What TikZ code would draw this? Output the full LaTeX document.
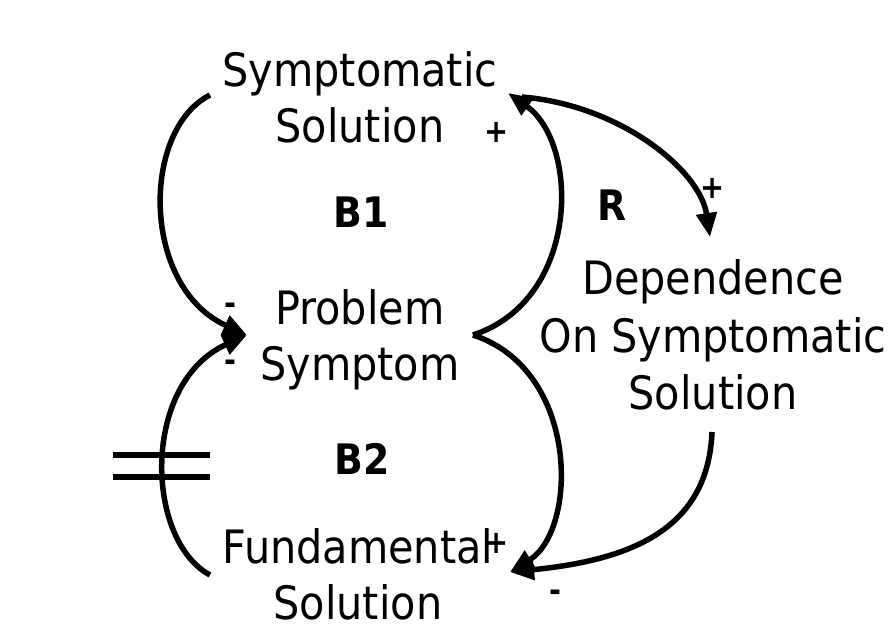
\documentclass[tikz,border=0pt]{standalone}
\usepackage{fontspec}
\setmainfont{DejaVu Sans Condensed}
\usetikzlibrary{arrows.meta}
\tikzset{
  var/.style={font=\fontsize{46}{56}\selectfont, align=center, inner sep=0pt},
  looplbl/.style={font=\bfseries\fontsize{42}{50}\selectfont, inner sep=0pt},
  sgn/.style={font=\bfseries\fontsize{32}{36}\selectfont, inner sep=0pt},
  link/.style={line width=5.5pt, -{Triangle[length=24pt,width=20pt]}},
  delaybar/.style={line width=5.5pt},
}
\begin{document}
\begin{tikzpicture}[x=1pt,y=-1pt]
\useasboundingbox (0,0) rectangle (890,642);
% variables
\node[var] (ss) at (360,97.5) {Symptomatic\\Solution};
\node[var] (ps) at (360,339.5) {Problem\\Symptom};
\node[var] (fs) at (358,574) {Fundamental\\Solution};
\node[var, font=\fontsize{46}{57.5}\selectfont] (dep) at (713,335) {Dependence\\On Symptomatic\\Solution};
% attach points
\coordinate (ssL) at (210,95);
\coordinate (psL) at (247,335);
\coordinate (psR) at (473,335);
\coordinate (ssR) at (508,93);
\coordinate (ssR2) at (522,97);
\coordinate (fsR) at (510,572);
\coordinate (fsL) at (210,575);
\coordinate (depT) at (710,237);
\coordinate (depB) at (712,432);
% links
\draw[link] (ssL) .. controls (141,130) and (141,287) .. (psL);
\draw[link] (fsL) .. controls (145,540) and (141,383) .. (psL);
\draw[link] (psR) .. controls (580,300) and (580,144) .. (ssR);
\draw[link] (psR) .. controls (580,370) and (578,530) .. (fsR);
\draw[link] (ssR2) .. controls (620,105) and (700,170) .. (depT);
\draw[link] (depB) .. controls (708,530) and (630,560) .. (fsR);
% delay mark
\coordinate (d1a) at (113,455); \coordinate (d1b) at (210,455);
\coordinate (d2a) at (113,477); \coordinate (d2b) at (210,477);
\draw[delaybar] (d1a) -- (d1b);
\draw[delaybar] (d2a) -- (d2b);
% loop labels
\node[looplbl] (b1) at (361,212) {B1};
\node[looplbl] (b2) at (362,459) {B2};
\node[looplbl] (r) at (612,205) {R};
% polarity signs
\node[sgn] (s1) at (497,132) {+};
\node[sgn] (s2) at (713,188) {+};
\node[sgn] (s3) at (497,543) {+};
\node[sgn] (s4) at (230,309) {-};
\node[sgn] (s5) at (230,366) {-};
\node[sgn] (s6) at (555,596) {-};
\end{tikzpicture}
\end{document}
